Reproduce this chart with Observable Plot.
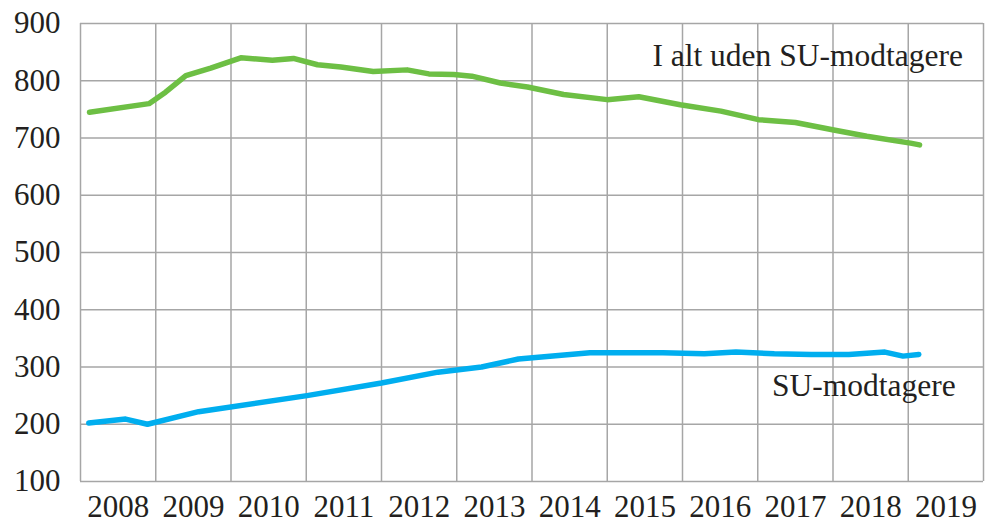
<!DOCTYPE html>
<html>
<head>
<meta charset="utf-8">
<script src="https://cdn.jsdelivr.net/npm/d3@7"></script>
<script src="https://cdn.jsdelivr.net/npm/@observablehq/plot@0.6"></script>
<style>
  html, body { margin: 0; padding: 0; background: #fff; }
  #chart svg { display: block; }
  #chart svg text { font-family: 'Liberation Serif', 'DejaVu Serif', serif !important; font-variant: normal !important; }
</style>
</head>
<body>
<div id="chart"></div>
<script>
// Tick labels (years, each centred in its own column)
const yearLabels = [2008, 2009, 2010, 2011, 2012, 2013, 2014, 2015, 2016, 2017, 2018, 2019];
const yTicks = [100, 200, 300, 400, 500, 600, 700, 800, 900];

// "I alt uden SU-modtagere" (time as decimal year, value)
const totalTime = [2008.12, 2008.91, 2009.13, 2009.40, 2009.73, 2010.13, 2010.55, 2010.83, 2011.15, 2011.46, 2011.89,
  2012.34, 2012.63, 2012.96, 2013.20, 2013.58, 2013.94, 2014.42, 2015.00, 2015.42, 2015.97, 2016.51, 2017.01,
  2017.50, 2018.01, 2018.45, 2019.03, 2019.15];
const totalValue = [745, 760, 780, 809, 822, 840, 836, 839, 828, 824, 816,
  819, 812, 811, 808, 796, 789, 776, 767, 772, 758, 747, 732,
  727, 714, 703, 691, 688];

// "SU-modtagere"
const suTime = [2008.11, 2008.60, 2008.89, 2009.57, 2011.01, 2012.00, 2012.75, 2013.33, 2013.82, 2014.77, 2015.74,
  2016.29, 2016.71, 2017.22, 2017.71, 2018.21, 2018.69, 2018.93, 2019.14];
const suValue = [202, 209, 200, 222, 250, 272, 291, 300, 314, 325, 325,
  323, 326, 323, 322, 322, 326, 319, 322];

// Series labels
const seriesLabels = ["I alt uden SU-modtagere", "SU-modtagere"];
const labelTime = [2015.60, 2017.19];
const labelValue = [826.5, 250];

const total = totalTime.map((t, i) => ({t, v: totalValue[i]}));
const su = suTime.map((t, i) => ({t, v: suValue[i]}));
const labels = seriesLabels.map((s, i) => ({s, t: labelTime[i], v: labelValue[i]}));
const gridX = d3.range(2008, 2021);
const serif = "Liberation Serif";

const chart = Plot.plot({
  width: 986,
  height: 525,
  marginLeft: 80,
  marginRight: 3,
  marginTop: 23,
  marginBottom: 44,
  style: {fontFamily: serif, fontSize: "31px", color: "#231f20", background: "#fff"},
  x: {domain: [2008, 2020], axis: null},
  y: {domain: [100, 900], axis: null},
  marks: [
    Plot.ruleX(gridX, {stroke: "#a6a6a6", strokeWidth: 1.5}),
    Plot.ruleY(yTicks, {stroke: "#a6a6a6", strokeWidth: 1.5}),
    Plot.text(yTicks, {x: 2008, y: d => d, text: d => String(d), dx: -20, textAnchor: "end", lineAnchor: "middle", fontSize: 31, fontFamily: serif, fill: "#231f20"}),
    Plot.text(yearLabels, {x: d => d + 0.5, y: 100, text: d => String(d), dy: 13, textAnchor: "middle", lineAnchor: "top", fontSize: 31, fontFamily: serif, fill: "#231f20"}),
    Plot.line(total, {x: "t", y: "v", stroke: "#6dbf44", strokeWidth: 5.5, strokeLinejoin: "round"}),
    Plot.line(su, {x: "t", y: "v", stroke: "#00aeef", strokeWidth: 5.5, strokeLinejoin: "round"}),
    Plot.text(labels, {x: "t", y: "v", text: "s", textAnchor: "start", lineAnchor: "bottom", fontSize: 31.5, fontFamily: serif, fill: "#231f20"})
  ]
});
document.getElementById("chart").appendChild(chart);
</script>
</body>
</html>
